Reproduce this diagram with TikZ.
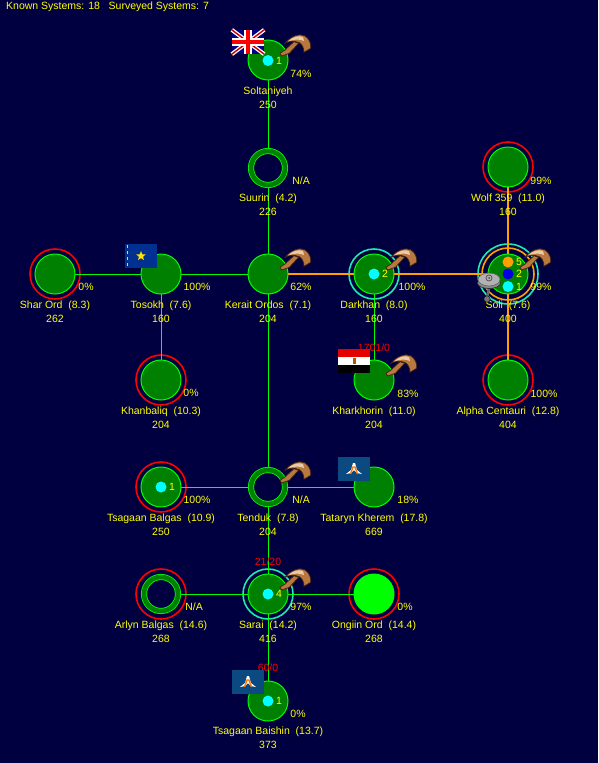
\documentclass[tikz,border=0pt]{standalone}
\usepackage{fontspec}
\setmainfont{Liberation Sans}
\usepackage{xcolor}
\usetikzlibrary{shapes.geometric}
\definecolor{spacenavy}{HTML}{000040}
\definecolor{lanegreen}{HTML}{00FF00}
\definecolor{laneorange}{HTML}{FFA000}
\definecolor{lanelav}{HTML}{9090E0}
\definecolor{planetgreen}{HTML}{008000}
\definecolor{labelyellow}{HTML}{FFFF00}
\definecolor{scanteal}{HTML}{20E8B0}
\definecolor{colonycyan}{HTML}{00FFFF}
\definecolor{colonyorange}{HTML}{FFA000}
\definecolor{colonyblue}{HTML}{0000E0}
\definecolor{clawbrown}{HTML}{B87840}
\definecolor{clawdark}{HTML}{402010}
\definecolor{clawpale}{HTML}{E8CCA8}
\definecolor{bannerblue}{HTML}{0A4A80}
\definecolor{tosokhblue}{HTML}{003090}

\begin{document}
\begin{tikzpicture}[
      x=1pt, y=-1pt,
      planet/.style={circle, draw=lanegreen, fill=planetgreen, line width=1pt, minimum size=40pt, inner sep=0pt, outer sep=0pt},
      hollow/.style={planet, fill=spacenavy, line width=0.8pt, double=planetgreen, double distance=4.5pt, minimum size=34pt, outer sep=3pt},
      bright/.style={planet, fill=lanegreen},
      redring/.style={circle, draw=red, line width=1.6pt, minimum size=50pt, inner sep=0pt},
      tealring/.style={circle, draw=scanteal, line width=1.6pt, minimum size=50pt, inner sep=0pt},
      orangering/.style={circle, draw=laneorange, line width=1.6pt, minimum size=52pt, inner sep=0pt},
      colony/.style={circle, fill=colonycyan, minimum size=11pt, inner sep=0pt},
      txt/.style={text=labelyellow, font=\fontsize{10.5}{14}\selectfont, align=center, inner sep=0pt},
      load/.style={text=red, font=\fontsize{10.5}{14}\selectfont, inner sep=0pt},
      lane/.style={lanegreen, line width=1pt},
      supply/.style={laneorange, line width=2pt},
      survey/.style={lanelav, line width=1pt},
      banner/.style={rectangle, minimum width=32pt, minimum height=24pt, inner sep=0pt},
      claw/.pic={
        \filldraw[fill=clawbrown, draw=clawdark, line width=0.7pt] (26,-18.3) -- (30.7,-16.7) -- (21.3,-6.7) -- (13.7,-4) -- (12,-6.7) -- (17,-10) -- cycle;
        \filldraw[fill=clawbrown, draw=clawdark, line width=0.7pt] (17,-16.7) .. controls (22.7,-24) and (32,-27) .. (37,-24) .. controls (41,-21.7) and (43.5,-16) .. (42.7,-11.7) -- (36,-7.7) .. controls (36,-12) and (34,-16) .. (31.3,-17.3) .. controls (27,-19.3) and (21,-19.3) .. (17,-16.7) -- cycle;
        \fill[clawpale] (20,-18.5) .. controls (24,-23) and (31,-25) .. (35,-23) -- (36,-19) .. controls (32,-21) and (26,-21) .. (20,-18.5) -- cycle;
      }
    ]
    \fill[spacenavy] (0,0) rectangle (598,763);
    \useasboundingbox (0,0) rectangle (598,763);

    % planets
    \node[planet] (soltaniyeh) at (268,60) {};
    \node[hollow] (suurin) at (268,168) {};
    \node[planet] (kerait) at (268,274) {};
    \node[planet] (tosokh) at (161,274) {};
    \node[planet] (sharord) at (55,274) {};
    \node[planet] (darkhan) at (374,274) {};
    \node[planet] (soli) at (508,274) {};
    \node[planet] (wolf) at (508,167) {};
    \node[planet] (alpha) at (508,380) {};
    \node[planet] (khanbaliq) at (161,380) {};
    \node[planet] (kharkhorin) at (374,380) {};
    \node[planet] (balgas) at (161,487) {};
    \node[hollow] (tenduk) at (268,487) {};
    \node[planet] (tataryn) at (374,487) {};
    \node[hollow] (arlyn) at (161,594) {};
    \node[planet] (sarai) at (268,594) {};
    \node[bright] (ongiin) at (374,594) {};
    \node[planet] (baishin) at (268,701) {};

    % rings
    \node[redring] (sharordring) at (sharord) {};
    \node[redring] (khanbaliqring) at (khanbaliq) {};
    \node[redring] (balgasring) at (balgas) {};
    \node[redring] (arlynring) at (arlyn) {};
    \node[redring] (ongiinring) at (ongiin) {};
    \node[redring] (wolfring) at (wolf) {};
    \node[redring] (alpharing) at (alpha) {};
    \node[tealring] (darkhanring) at (darkhan) {};
    \node[tealring] (sarairing) at (sarai) {};
    \node[orangering] (soliring) at (soli) {};
    \node[tealring, minimum size=60pt] (soliouter) at (soli) {};

    % lanes
    \draw[lane] (soltaniyeh) -- (suurin);
    \draw[lane] (suurin) -- (kerait);
    \draw[lane] (sharord) -- (tosokh);
    \draw[lane] (tosokh) -- (kerait);
    \draw[supply] (kerait) -- (darkhan);
    \draw[supply] (darkhan) -- (soli);
    \draw[supply] (soli) -- (wolf);
    \draw[supply] (soli) -- (alpha);
    \draw[survey] (tosokh) -- (khanbaliq);
    \draw[lane] (darkhan) -- (kharkhorin);
    \draw[lane] (kerait) -- (tenduk);
    \draw[survey] (balgas) -- (tenduk);
    \draw[survey] (tenduk) -- (tataryn);
    \draw[lane] (tenduk) -- (sarai);
    \draw[lane] (arlyn) -- (sarai);
    \draw[lane] (sarai) -- (ongiin);
    \draw[lane] (sarai) -- (baishin);

    % colonies
    \node[colony] (soltaniyehcol) at (268,60.5) {};
    \node[colony] (darkhancol) at (374,274) {};
    \node[colony, fill=colonyorange] (solicola) at (508,262) {};
    \node[colony, fill=colonyblue] (solicolb) at (508,274) {};
    \node[colony] (solicolc) at (508,286.5) {};
    \node[colony] (balgascol) at (161,487) {};
    \node[colony] (saraicol) at (268,594) {};
    \node[colony] (baishincol) at (268,701) {};
    \node[txt] (soltaniyehnum) at (279,60.5) {1};
    \node[txt] (darkhannum) at (385,274) {2};
    \node[txt] (solinuma) at (519,262) {5};
    \node[txt] (solinumb) at (519,274) {2};
    \node[txt] (solinumc) at (519,286.5) {1};
    \node[txt] (balgasnum) at (172,487) {1};
    \node[txt] (sarainum) at (279,594) {4};
    \node[txt] (baishinnum) at (279,701) {1};

    % names
    \node[txt] (soltaniyehname) at (268,98) {Soltaniyeh\\250};
    \node[txt] (suurinname) at (268,205) {Suurin\ \ (4.2)\\226};
    \node[txt] (keraitname) at (268,312) {Kerait Ordos\ \ (7.1)\\204};
    \node[txt] (tosokhname) at (161,312) {Tosokh\ \ (7.6)\\160};
    \node[txt] (sharordname) at (55,312) {Shar Ord\ \ (8.3)\\262};
    \node[txt] (darkhanname) at (374,312) {Darkhan\ \ (8.0)\\160};
    \node[txt] (soliname) at (508,312) {Soli\ \ (7.6)\\400};
    \node[txt] (wolfname) at (508,205) {Wolf 359\ \ (11.0)\\160};
    \node[txt] (alphaname) at (508,418) {Alpha Centauri\ \ (12.8)\\404};
    \node[txt] (khanbaliqname) at (161,418) {Khanbaliq\ \ (10.3)\\204};
    \node[txt] (kharkhorinname) at (374,418) {Kharkhorin\ \ (11.0)\\204};
    \node[txt] (balgasname) at (161,525) {Tsagaan Balgas\ \ (10.9)\\250};
    \node[txt] (tendukname) at (268,525) {Tenduk\ \ (7.8)\\204};
    \node[txt] (tatarynname) at (374,525) {Tataryn Kherem\ \ (17.8)\\669};
    \node[txt] (arlynname) at (161,632) {Arlyn Balgas\ \ (14.6)\\268};
    \node[txt] (sarainame) at (268,632) {Sarai\ \ (14.2)\\416};
    \node[txt] (ongiinname) at (374,632) {Ongiin Ord\ \ (14.4)\\268};
    \node[txt] (baishinname) at (268,738) {Tsagaan Baishin\ \ (13.7)\\373};

    % shares
    \node[txt] (soltaniyehpct) at (301,74) {74\%};
    \node[txt] (suurinpct) at (301,181) {N/A};
    \node[txt] (keraitpct) at (301,287) {62\%};
    \node[txt] (sharordpct) at (86,287) {0\%};
    \node[txt] (tosokhpct) at (197,287) {100\%};
    \node[txt] (darkhanpct) at (412,287) {100\%};
    \node[txt] (solipct) at (541,287) {99\%};
    \node[txt] (wolfpct) at (541,181) {99\%};
    \node[txt] (khanbaliqpct) at (191,393) {0\%};
    \node[txt] (kharkhorinpct) at (408,394) {83\%};
    \node[txt] (alphapct) at (544,394) {100\%};
    \node[txt] (balgaspct) at (197,500) {100\%};
    \node[txt] (tendukpct) at (301,500) {N/A};
    \node[txt] (tatarynpct) at (408,500) {18\%};
    \node[txt] (arlynpct) at (194,607) {N/A};
    \node[txt] (saraipct) at (301,607) {97\%};
    \node[txt] (ongiinpct) at (405,607) {0\%};
    \node[txt] (baishinpct) at (298,714) {0\%};

    % loads
    \node[load] (kharkhorinload) at (374,348) {1701/0};
    \node[load] (saraiload) at (268,562) {21/20};
    \node[load] (baishinload) at (268,668) {60/0};

    % claws
    \pic at (soltaniyeh) {claw};
    \pic at (kerait) {claw};
    \pic at (darkhan) {claw};
    \pic at (soli) {claw};
    \pic at (kharkhorin) {claw};
    \pic at (tenduk) {claw};
    \pic at (sarai) {claw};

    % flags
    \node[banner, fill=blue!50!black] (ukflag) at (248,42) {};
    \draw[white, line width=4pt] (ukflag.north west) -- (ukflag.south east) (ukflag.north east) -- (ukflag.south west);
    \draw[red!80!black, line width=1.4pt] (ukflag.north west) -- (ukflag.south east) (ukflag.north east) -- (ukflag.south west);
    \draw[white, line width=8pt] (ukflag.north) -- (ukflag.south) (ukflag.west) -- (ukflag.east);
    \draw[red, line width=4.5pt] (ukflag.north) -- (ukflag.south) (ukflag.west) -- (ukflag.east);

    \node[banner, fill=tosokhblue] (tosokhflag) at (141,256) {};
    \node[star, star points=5, star point ratio=2.3, fill=yellow!85!orange, minimum size=10pt, inner sep=0pt] (tosokhstar) at (tosokhflag) {};
    \draw[yellow!85!orange, dashed, line width=1pt] (127,245) -- (127,267);

    \node[banner, fill=white] (egyptflag) at (354,361) {};
    \fill[red!90!black] (egyptflag.north west) rectangle (370,357);
    \fill[black] (338,365) rectangle (egyptflag.south east);
    \fill[orange!70!black] (352.5,358) rectangle (355.5,364);

    \node[banner, fill=bannerblue] (tatarynflag) at (354,469) {};
    \node[banner, fill=bannerblue] (baishinflag) at (248,682) {};
    \foreach \fl in {tatarynflag, baishinflag} {
      \fill[white, shift={(\fl.center)}] (-8,5) -- (-3,1) -- (-1,-6) -- (1,-6) -- (3,1) -- (8,5) -- (3,4) -- (0,1) -- (-3,4) -- cycle;
      \draw[orange!90!red, line width=1.4pt, shift={(\fl.center)}] (-3.5,5) -- (-1,-2) -- (1,-2) -- (3.5,5);
    }

    % ship at Soli
    \draw[black!60, line width=2.5pt] (489,288) -- (487,298);
    \filldraw[fill=black!55, draw=black] (487,299) circle (3.2);
    \filldraw[fill=black!45, draw=black!80, line width=0.7pt] (489,283) ellipse (11.5 and 5.5);
    \filldraw[fill=black!30, draw=black!60, line width=0.7pt] (489,279.5) ellipse (11 and 6.5);
    \draw[black!70, line width=0.7pt] (489,278) circle (3);
    \fill[black!70] (489,278) circle (1);

    \node[txt, anchor=west] (summary) at (6,6.5) {Known Systems: 18\ \ \ Surveyed Systems: 7};
  \end{tikzpicture}
\end{document}
